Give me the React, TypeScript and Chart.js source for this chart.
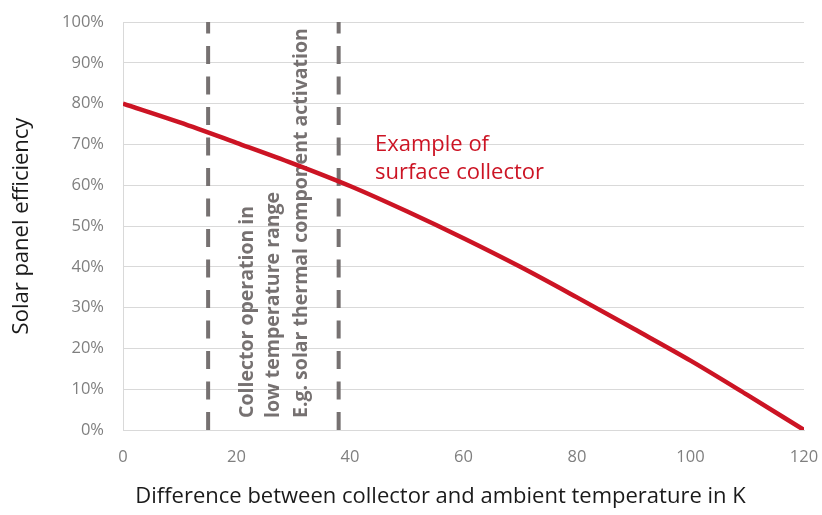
import React, { useEffect, useRef } from "react";
import { Chart, registerables } from "chart.js";

Chart.register(...registerables);

// Temperature difference (K) and efficiency (%)
const tempDiff = [0, 10, 20, 30, 40, 50, 60, 70, 80, 90, 100, 110, 120];
const efficiency = [80, 75.4, 70.4, 65.3, 59.8, 53.6, 47, 40, 32.5, 24.8, 17, 8.6, 0];

// Dashed boundaries of the low temperature range
const rangeBounds = [15, 38];
const yTicksMax = 100;

const xTitle = "Difference between collector and ambient temperature in K";
const yTitle = "Solar panel efficiency";
const rangeLabel = [
  "Collector operation in",
  "low temperature range",
  "E.g. solar thermal component activation",
];
const curveLabel = ["Example of", "surface collector"];

const FONT = "'Open Sans', 'Noto Sans', sans-serif";
const RED = "#cc1424";
const DASH_GREY = "#767171";

const annotationPlugin = {
  id: "annotations",
  beforeDatasetsDraw(chart: any) {
    const { ctx, scales } = chart;
    const x = scales.x;
    const y = scales.y;
    const xa = x.getPixelForValue(rangeBounds[0]);
    ctx.save();
    ctx.fillStyle = DASH_GREY;
    ctx.font = `bold 19.5px ${FONT}`;
    ctx.textAlign = "left";
    ctx.textBaseline = "middle";
    const bottom = y.getPixelForValue(0) - 12;
    const centers = [248, 274, 301.5].map((c) => c - 208.5 + xa);
    rangeLabel.forEach((line, i) => {
      ctx.save();
      ctx.translate(centers[i], bottom);
      ctx.rotate(-Math.PI / 2);
      ctx.fillText(line, 0, 0);
      ctx.restore();
    });
    ctx.restore();
  },
  afterDraw(chart: any) {
    const { ctx, scales, chartArea } = chart;
    const x = scales.x;
    const y = scales.y;
    ctx.save();
    ctx.fillStyle = RED;
    ctx.font = `22px ${FONT}`;
    ctx.textAlign = "left";
    ctx.textBaseline = "alphabetic";
    const lx = x.getPixelForValue(44.4);
    const ly = y.getPixelForValue(68.5);
    curveLabel.forEach((line, i) => ctx.fillText(line, lx, ly + i * 28));
    ctx.fillStyle = "#1a1a1a";
    ctx.font = `22px ${FONT}`;
    ctx.textAlign = "center";
    ctx.textBaseline = "middle";
    ctx.fillText(xTitle, (chartArea.left + chartArea.right) / 2 - 23, 497);
    ctx.restore();
  },
};

export default function App() {
  const ref = useRef<HTMLCanvasElement>(null);
  useEffect(() => {
    document.body.style.margin = "0";
    const canvas = ref.current!;
    const chart = new Chart(canvas, {
      type: "line",
      data: {
        datasets: [
          {
            data: tempDiff.map((t, i) => ({ x: t, y: efficiency[i] })),
            borderColor: RED,
            borderWidth: 4.5,
            pointRadius: 0,
            cubicInterpolationMode: "monotone",
            fill: false,
          },
          ...rangeBounds.map((b) => ({
            data: [
              { x: b, y: 0 },
              { x: b, y: yTicksMax },
            ],
            borderColor: DASH_GREY,
            borderWidth: 4,
            borderDash: [18, 12.5],
            borderCapStyle: "butt" as const,
            pointRadius: 0,
            fill: false,
          })),
        ],
      },
      options: {
        animation: false,
        responsive: true,
        maintainAspectRatio: false,
        layout: {
          padding: { left: 0, right: 18, top: 22, bottom: 0 },
        },
        plugins: {
          legend: { display: false },
          tooltip: { enabled: false },
        },
        scales: {
          x: {
            type: "linear",
            min: 0,
            max: 120,
            ticks: {
              stepSize: 20,
              color: "#7f7f7f",
              font: { family: FONT, size: 16.5 },
              padding: 17,
            },
            grid: { display: false, drawTicks: false },
            border: { display: true, color: "#d9d9d9", width: 1 },
            afterFit(scale: any) {
              scale.height = 85;
              scale.paddingLeft = 0;
              scale.paddingRight = 0;
            },
          },
          y: {
            min: 0,
            max: yTicksMax,
            ticks: {
              stepSize: 10,
              color: "#7f7f7f",
              font: { family: FONT, size: 16.5 },
              padding: 19,
              callback: (v: any) => v + "%",
            },
            grid: { color: "#d9d9d9", drawTicks: false, lineWidth: 1 },
            border: { display: true, color: "#d9d9d9", width: 1 },
            title: {
              display: true,
              text: yTitle,
              color: "#1a1a1a",
              font: { family: FONT, size: 22 },
              padding: { top: 9, bottom: 0 },
            },
            afterFit(scale: any) {
              scale.width = 123;
              scale.paddingTop = 0;
              scale.paddingBottom = 0;
            },
          },
        },
      },
      plugins: [annotationPlugin],
    });
    return () => chart.destroy();
  }, []);
  return (
    <div style={{ position: "relative", width: 822, height: 515 }}>
      <canvas ref={ref} />
    </div>
  );
}
